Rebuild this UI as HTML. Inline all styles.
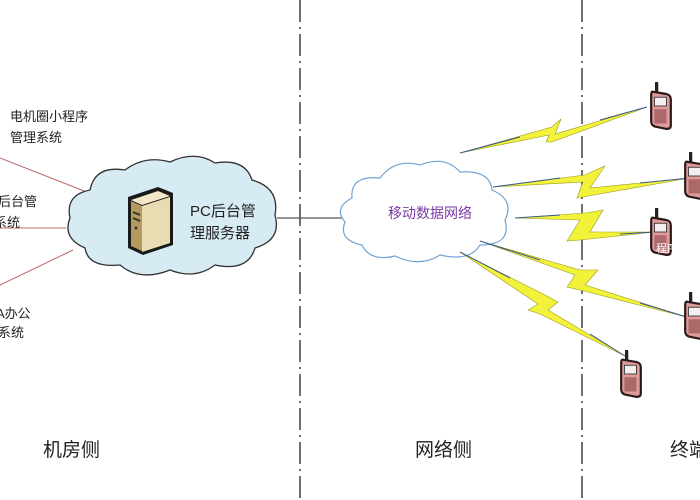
<!DOCTYPE html>
<html><head><meta charset="utf-8"><style>
html,body{margin:0;padding:0;background:#fff;width:700px;height:500px;overflow:hidden}
svg{display:block}
text{font-family:"Liberation Sans","Noto Sans CJK SC",sans-serif}
</style></head><body>
<svg width="700" height="500" viewBox="0 0 700 500" xmlns="http://www.w3.org/2000/svg">
<defs>
<symbol id="ph" viewBox="0 0 20 44">
<line x1="6" y1="1" x2="6" y2="10" stroke="#222" stroke-width="3" stroke-linecap="round"/>
<path d="M3 9 L15 11 Q19 12 19 16 L19 40 Q19 43 15 43 L5 41 Q1 40 1 36 L1 12 Q1 8 3 9Z" fill="#e09a9a" stroke="#2a1a1a" stroke-width="2"/>
<rect x="4" y="14" width="11" height="8" fill="#f5eeee" stroke="#333" stroke-width="0.8"/>
<rect x="4" y="25" width="11" height="13" fill="#8a4a4a" opacity="0.6"/>
</symbol>
</defs>
<g stroke="#222" stroke-width="1.3" stroke-dasharray="22,5,2,5">
<line x1="300" y1="0" x2="300" y2="500"/>
<line x1="582" y1="0" x2="582" y2="500"/>
</g>
<g stroke="#b86a6a" stroke-width="1">
<line x1="0" y1="158" x2="102" y2="198"/>
<line x1="0" y1="228" x2="66" y2="228"/>
<line x1="0" y1="285" x2="73" y2="250"/>
</g>
<path d="M90 190 Q95 165 125 170 Q145 155 170 162 Q195 150 215 163 Q245 158 252 180 Q280 188 275 215 Q282 240 255 248 Q248 272 215 265 Q195 280 170 270 Q140 282 120 265 Q88 268 85 248 Q62 238 70 218 Q65 195 90 190Z" fill="#d6ebf3" stroke="#333" stroke-width="1.3"/>
<g>
<path d="M128 197 L158 187 L173 193 L173 245 L143 255 L128 248Z" fill="#1a1a1a"/>
<path d="M131 200 L158 191 L170 196 L142 205Z" fill="#f3e7c8"/>
<path d="M131 201 L142 206 L142 251 L131 246Z" fill="#b59a60"/>
<path d="M142 206 L170 197 L170 243 L142 252Z" fill="#e9dcb3"/>
<line x1="133" y1="212" x2="140" y2="215" stroke="#333" stroke-width="2"/>
<line x1="133" y1="218" x2="140" y2="221" stroke="#333" stroke-width="2"/>
<circle cx="136" cy="228" r="1.5" fill="#333"/>
</g>
<text x="190" y="216" font-size="15" fill="#222">PC后台管</text>
<text x="190" y="238" font-size="15" fill="#222">理服务器</text>
<line x1="277" y1="218" x2="343" y2="218" stroke="#555" stroke-width="1.2"/>
<path d="M352 198 Q350 175 380 178 Q395 158 420 165 Q445 155 460 172 Q490 170 492 190 Q515 200 505 220 Q512 245 480 245 Q470 262 440 255 Q420 268 395 256 Q370 262 362 245 Q338 240 345 222 Q333 208 352 198Z" fill="#fff" stroke="#6fa3d3" stroke-width="1.2"/>
<text x="430" y="218" font-size="14" fill="#7a3aa8" text-anchor="middle">移动数据网络</text>
<g fill="#f3f23a" stroke="#9a9a20" stroke-width="0.6">
<polygon points="460,153 552,127 561,119 555,134 647,107 552,142 546,142 549,135"/>
<polygon points="493,187 585,175 605,166 590,188 690,178 588,196 577,198 583,182"/>
<polygon points="515,218 585,213 603,210 590,232 655,232 580,240 567,241 580,220"/>
<polygon points="480,241 580,270 598,270 585,285 690,318 580,290 567,287 575,275"/>
<polygon points="460,252 545,295 558,302 548,310 625,356 540,314 528,310 538,304"/>
</g>
<g stroke="#3a5a8a" stroke-width="1">
<line x1="460" y1="153" x2="520" y2="137"/><line x1="600" y1="120" x2="647" y2="107"/>
<line x1="493" y1="187" x2="560" y2="178"/><line x1="640" y1="183" x2="690" y2="178"/>
<line x1="515" y1="218" x2="560" y2="215"/><line x1="620" y1="234" x2="655" y2="232"/>
<line x1="480" y1="241" x2="540" y2="260"/><line x1="640" y1="303" x2="690" y2="318"/>
<line x1="460" y1="252" x2="510" y2="278"/><line x1="590" y1="334" x2="625" y2="356"/>
</g>
<use href="#ph" x="650" y="82" width="22" height="48"/>
<use href="#ph" x="684" y="152" width="22" height="48"/>
<use href="#ph" x="650" y="208" width="22" height="48"/>
<use href="#ph" x="684" y="292" width="22" height="48"/>
<use href="#ph" x="620" y="350" width="22" height="48"/>
<text x="656" y="252" font-size="11" fill="#fff">程序</text>
<g font-size="13" fill="#222">
<text x="10" y="121">电机圈小程序</text>
<text x="10" y="142">管理系统</text>
<text x="-2" y="206">后台管</text>
<text x="-6" y="227">系统</text>
<text x="-4" y="318">A办公</text>
<text x="-2" y="337">系统</text>
</g>
<g font-size="19" fill="#222">
<text x="43" y="456">机房侧</text>
<text x="415" y="456">网络侧</text>
<text x="670" y="456">终端</text>
</g>
</svg>
</body></html>
